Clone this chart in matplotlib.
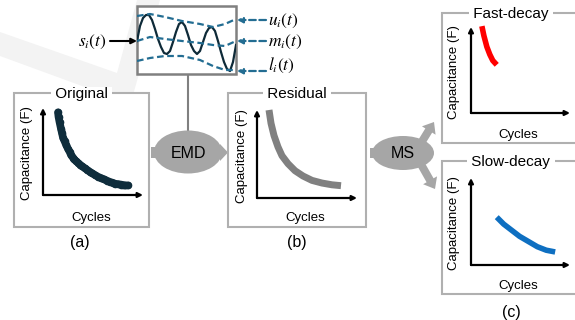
import matplotlib.pyplot as plt
from matplotlib.patches import Rectangle, Ellipse, Polygon, FancyArrow

plt.rcParams['font.family'] = ['Liberation Sans', 'DejaVu Sans']
plt.rcParams['mathtext.fontset'] = 'stix'

W, H = 575, 320

# signal in the top box (time 0..99, amplitude around the mean)
wave_t = [0, 3, 6, 9, 12, 15, 18, 21, 24, 27, 30, 33, 36, 39, 42, 45, 48, 51,
          54, 57, 60, 63, 66, 69, 72, 75, 78, 81, 84, 87, 90, 93, 96, 99]
wave_v = [0, 15, 23, 26, 26, 21, 12, 2, -6, -12, -13, -10, -1, 9, 17, 19, 15, 6,
          -4, -10, -13, -10, -1, 8, 13, 14, 10, 0, -11, -21, -28, -30, -21, -4]
env_t = [0, 13, 28, 45, 63, 76, 88, 99]
upper_v = [25, 27, 24, 20, 17, 14, 17, 22]
middle_v = [0, 4, 2, 0, -2, -4, -5, 0]
lower_v = [-20, -17, -15, -15, -19, -25, -29, -29]
env_labels = [r'$u_i(t)$', r'$m_i(t)$', r'$l_i(t)$']

# decay curves (normalised cycles / capacitance)
orig_cycles = [0.15, 0.155, 0.165, 0.18, 0.19, 0.20, 0.215, 0.23, 0.25, 0.265, 0.28, 0.30,
               0.31, 0.33, 0.35, 0.37, 0.39, 0.415, 0.44, 0.465, 0.49, 0.52, 0.55, 0.58,
               0.61, 0.64, 0.67, 0.70, 0.72, 0.75, 0.78, 0.80, 0.82, 0.85]
orig_cap = [0.95, 0.90, 0.84, 0.76, 0.71, 0.66, 0.62, 0.58, 0.53, 0.50, 0.46, 0.43,
            0.41, 0.39, 0.37, 0.35, 0.33, 0.31, 0.29, 0.27, 0.25, 0.23, 0.21, 0.195,
            0.18, 0.165, 0.15, 0.14, 0.13, 0.125, 0.12, 0.115, 0.11, 0.11]
res_cycles = [0.12, 0.14, 0.17, 0.21, 0.25, 0.31, 0.38, 0.46, 0.55, 0.65, 0.75, 0.84]
res_cap = [1.0, 0.85, 0.71, 0.58, 0.48, 0.39, 0.31, 0.25, 0.20, 0.17, 0.15, 0.14]
fast_cycles = [0.11, 0.13, 0.16, 0.19, 0.22, 0.26]
fast_cap = [1.01, 0.90, 0.77, 0.68, 0.61, 0.56]
slow_cycles = [0.26, 0.33, 0.41, 0.49, 0.58, 0.67, 0.76, 0.85]
slow_cap = [0.55, 0.47, 0.40, 0.33, 0.27, 0.21, 0.17, 0.15]

fig = plt.figure(figsize=(W / 100, H / 100), dpi=100)
base = fig.add_axes([0, 0, 1, 1])
base.set_xlim(0, W)
base.set_ylim(H, 0)
base.axis('off')


def px_axes(l, t, r, b):
    ax = fig.add_axes([l / W, 1 - b / H, (r - l) / W, (b - t) / H])
    ax.axis('off')
    return ax


# faint watermark check mark
base.add_patch(Polygon([(0, 32), (0, 56), (112, 97), (133, 95), (160, 0), (137, 0), (117, 73)],
                       closed=True, fc='#f3f3f3', ec='none', zorder=0))

# top EMD illustration
base.add_patch(Rectangle((137, 6), 99, 68, fc='white', ec='#808080', lw=1.8, zorder=2))
wax = px_axes(137, 6, 236, 74)
wax.set_xlim(0, 99)
wax.set_ylim(-33, 35)
wax.plot(wave_t, wave_v, color='#0e2a38', lw=1.6, zorder=3)
for v in (upper_v, middle_v, lower_v):
    wax.plot(env_t, v, color='#236d92', lw=1.6, ls=(0, (3, 1.6)), zorder=4)
for yy, ty, lab in zip([20, 41, 71], [21, 42, 65], env_labels):
    base.annotate('', xy=(237, yy), xytext=(266, yy),
                  arrowprops=dict(arrowstyle='-|>', color='#236d92', lw=1.6,
                                  ls=(0, (3, 1.6)), mutation_scale=8, shrinkA=0, shrinkB=0))
    base.text(268, ty, lab, fontsize=12.5, va='center', ha='left')
base.annotate('', xy=(137, 41), xytext=(110, 41),
              arrowprops=dict(arrowstyle='-|>', color='black', lw=1.5,
                              mutation_scale=8, shrinkA=0, shrinkB=0))
base.text(107, 42, r'$s_i(t)$', fontsize=12.5, va='center', ha='right')
base.plot([188, 188], [74, 130], color='#808080', lw=1.5, zorder=1)

# EMD and MS blobs
gray = '#a6a6a6'
base.add_patch(Rectangle((151, 147), 72, 11, fc=gray, ec='none', zorder=2))
base.add_patch(Polygon([(220, 144), (228, 152.5), (220, 161)], fc=gray, ec='none', zorder=2))
base.add_patch(Ellipse((188, 152), 68, 43, fc=gray, ec='none', zorder=2))
base.text(188, 153, 'EMD', fontsize=11.5, ha='center', va='center', zorder=3)

base.add_patch(Rectangle((370, 148), 20, 10, fc=gray, ec='none', zorder=2))
base.add_patch(FancyArrow(418, 148, 16, -26, width=8, head_width=16, head_length=10,
                          length_includes_head=True, fc=gray, ec='none', zorder=2))
base.add_patch(FancyArrow(418, 159, 17, 30, width=8, head_width=16, head_length=10,
                          length_includes_head=True, fc=gray, ec='none', zorder=2))
base.add_patch(Ellipse((403, 153), 62, 34, fc=gray, ec='none', zorder=2))
base.text(403, 154, 'MS', fontsize=11.5, ha='center', va='center', zorder=3)


def panel(box, title, origin, xend, ytop, cycles, cap, color, lw, cap_x, cyc_y,
          markers=False):
    l, t, r, b = box
    base.add_patch(Rectangle((l, t), r - l, b - t, fc='white', ec='#b0b0b0', lw=1.5, zorder=2))
    cx = (l + r) / 2
    base.text(cx, t + 1, ' ' + title + ' ', fontsize=11, ha='center', va='center',
              bbox=dict(fc='white', ec='none', pad=0), zorder=5)
    ox, oy = origin
    ax = px_axes(ox, ytop, xend, oy)
    ax.set_xlim(0, 1)
    ax.set_ylim(0, 1)
    for xy in [(1, 0), (0, 1)]:
        ax.annotate('', xy=xy, xytext=(0, 0),
                    arrowprops=dict(arrowstyle='-|>', color='black', lw=1.6,
                                    mutation_scale=7, shrinkA=0, shrinkB=0))
    if markers:
        ax.plot(cycles, cap, color=color, lw=5.5, marker='o', ms=5.5, mew=0,
                solid_capstyle='round', clip_on=False)
    else:
        ax.plot(cycles, cap, color=color, lw=lw, solid_capstyle='butt', clip_on=False)
    base.text(cap_x, (ytop + oy) / 2 + 2, 'Capacitance (F)', fontsize=9.5, rotation=90,
              ha='center', va='center', zorder=5)
    base.text((ox + xend) / 2 - 2, cyc_y, 'Cycles', fontsize=9.5, ha='center', va='center',
              zorder=5)


panel((14, 93, 149, 227), 'Original', (43, 195), 143, 108, orig_cycles, orig_cap,
      '#0f2d3c', 5, 27, 218, markers=True)
panel((228, 93, 366, 227), 'Residual', (257, 198), 357, 110, res_cycles, res_cap,
      '#808080', 5, 242, 218)
panel((442, 13, 580, 143), 'Fast-decay', (471, 113), 570, 27, fast_cycles, fast_cap,
      '#ff0000', 4, 454, 135)
panel((442, 161, 580, 294), 'Slow-decay', (471, 265), 570, 178, slow_cycles, slow_cap,
      '#0e6fc1', 4, 454, 286)

base.text(80, 243, '(a)', fontsize=11.5, ha='center', va='center')
base.text(297, 243, '(b)', fontsize=11.5, ha='center', va='center')
base.text(511, 312, '(c)', fontsize=11.5, ha='center', va='center')

fig.savefig('out.png', dpi=100)
